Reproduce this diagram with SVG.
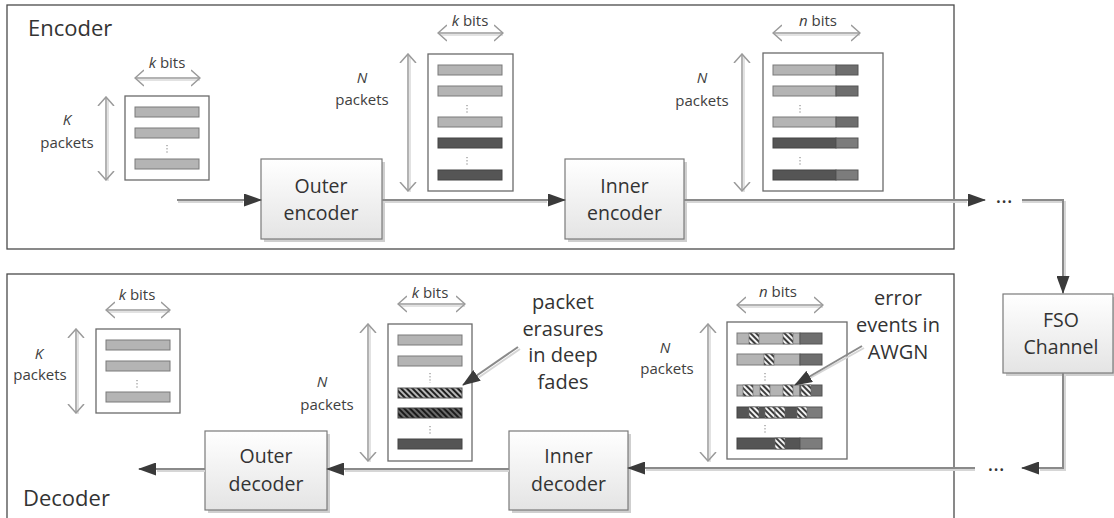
<svg xmlns="http://www.w3.org/2000/svg" width="1114" height="518" viewBox="0 0 1114 518">
<defs>
<linearGradient id="boxg" x1="0" y1="0" x2="0" y2="1">
<stop offset="0" stop-color="#ffffff"/><stop offset="1" stop-color="#e4e4e4"/>
</linearGradient>
<pattern id="hatchL" width="4" height="4" patternUnits="userSpaceOnUse" patternTransform="rotate(-45)">
<rect width="4" height="4" fill="#b8b8b8"/><rect width="2" height="4" fill="#1e1e1e"/>
</pattern>
<pattern id="hatchD" width="4" height="4" patternUnits="userSpaceOnUse" patternTransform="rotate(-45)">
<rect width="4" height="4" fill="#6a6a6a"/><rect width="2" height="4" fill="#1a1a1a"/>
</pattern>
<pattern id="hatchW" width="4" height="4" patternUnits="userSpaceOnUse" patternTransform="rotate(-45)">
<rect width="4" height="4" fill="#3c3c3c"/><rect width="2" height="4" fill="#f4f4f4"/>
</pattern>
<marker id="ah" markerUnits="userSpaceOnUse" viewBox="0 0 18 13" markerWidth="18" markerHeight="13" refX="17" refY="6.5" orient="auto">
<path d="M0,0 L18,6.5 L0,13 z" fill="#3a3a3a"/>
</marker>
<marker id="dh" markerUnits="userSpaceOnUse" viewBox="0 0 10 18" markerWidth="10" markerHeight="18" refX="9" refY="9" orient="auto-start-reverse">
<path d="M0,1 L9,9 L0,17" fill="none" stroke="#9a9a9a" stroke-width="1.5"/>
</marker>
</defs>
<style>
.frame{fill:none;stroke:#4a4a4a;stroke-width:1.3}
.box{fill:url(#boxg);stroke:#7a7a7a;stroke-width:1.2}
.shadow{fill:#cfcfcf}
.pbox{fill:#fff;stroke:#6a6a6a;stroke-width:1.3}
.lb{fill:#b4b4b4;stroke:#7a7a7a;stroke-width:1}
.db{fill:#555;stroke:#444;stroke-width:1}
.lp{fill:#6e6e6e;stroke:#555;stroke-width:1}
.dp{fill:#7c7c7c;stroke:#555;stroke-width:1}
.hs{fill:url(#hatchW);stroke:#666;stroke-width:0.6}
.dots{stroke:#777;stroke-width:1;stroke-dasharray:1.2 2}
.dbl{stroke:#9a9a9a;stroke-width:1.5;fill:none;marker-start:url(#dh);marker-end:url(#dh)}
.dbls{stroke:#e2e2e2;stroke-width:2;fill:none}
.con{fill:none;stroke:#8a8a8a;stroke-width:2;marker-end:url(#ah)}
.cons{fill:none;stroke:#d6d6d6;stroke-width:2}
text{font-family:"Open Sans","Liberation Sans",sans-serif;fill:#333}
.t{font-size:19.5px;text-anchor:middle}
.s{font-size:15px;text-anchor:middle;fill:#404040}
.big{font-size:22px}
.ann{font-size:20px;text-anchor:middle}
.i{font-style:italic}
.ell{font-size:22px;text-anchor:middle}
</style>

<g id="encoder-frame"><rect class="frame" x="7" y="5" width="947" height="244"/><text class="big" x="28" y="36">Encoder</text></g>
<g id="decoder-frame"><rect class="frame" x="7" y="274" width="947" height="270"/><text class="big" x="23" y="506">Decoder</text></g>

<g id="outer-encoder"><rect class="shadow" x="264" y="162" width="121" height="80"/><rect class="box" x="261" y="159" width="121" height="80"/><text class="t" x="321" y="193">Outer</text><text class="t" x="321" y="220">encoder</text></g>
<g id="inner-encoder"><rect class="shadow" x="568" y="162" width="119" height="80"/><rect class="box" x="565" y="159" width="119" height="80"/><text class="t" x="624.5" y="193">Inner</text><text class="t" x="624.5" y="220">encoder</text></g>
<g id="fso-channel"><rect class="shadow" x="1006" y="297" width="110" height="79"/><rect class="box" x="1003" y="294" width="110" height="79"/><text class="t" x="1061" y="327">FSO</text><text class="t" x="1061" y="354">Channel</text></g>
<g id="inner-decoder"><rect class="shadow" x="512" y="434" width="119" height="79"/><rect class="box" x="509" y="431" width="119" height="79"/><text class="t" x="568.5" y="463">Inner</text><text class="t" x="568.5" y="491">decoder</text></g>
<g id="outer-decoder"><rect class="shadow" x="208" y="434" width="122" height="79"/><rect class="box" x="205" y="431" width="122" height="79"/><text class="t" x="266" y="463">Outer</text><text class="t" x="266" y="491">decoder</text></g>

<g id="enc-packets-K">
<path class="dbls" d="M137,80 H200 M108,99 V181"/>
<path class="dbl" d="M135,78 H200"/><path class="dbl" d="M106,97 V180"/>
<text class="s" x="167" y="68"><tspan class="i">k</tspan> bits</text>
<text class="s i" x="67" y="125">K</text><text class="s" x="67" y="148">packets</text>
<rect class="pbox" x="125" y="96" width="84" height="84"/>
<rect class="lb" x="135" y="107" width="64" height="10"/>
<rect class="lb" x="135" y="128" width="64" height="10"/>
<line class="dots" x1="167" y1="145" x2="167" y2="154"/>
<rect class="lb" x="135" y="159" width="64" height="10"/>
</g>

<g id="enc-packets-N">
<path class="dbls" d="M440,35 H503 M410,56 V192"/>
<path class="dbl" d="M438,33 H503"/><path class="dbl" d="M408,54 V191"/>
<text class="s" x="470" y="26"><tspan class="i">k</tspan> bits</text>
<text class="s i" x="362" y="83">N</text><text class="s" x="362" y="105">packets</text>
<rect class="pbox" x="428" y="54" width="85" height="137"/>
<rect class="lb" x="438" y="65" width="64" height="10"/>
<rect class="lb" x="438" y="86" width="64" height="10"/>
<line class="dots" x1="467" y1="105" x2="467" y2="114"/>
<rect class="lb" x="438" y="117" width="64" height="10"/>
<rect class="db" x="438" y="138" width="64" height="10"/>
<line class="dots" x1="467" y1="157" x2="467" y2="166"/>
<rect class="db" x="438" y="170" width="64" height="10"/>
</g>

<g id="enc-packets-n">
<path class="dbls" d="M775,35 H860 M744,56 V192"/>
<path class="dbl" d="M773,33 H860"/><path class="dbl" d="M742,54 V191"/>
<text class="s" x="818" y="26"><tspan class="i">n</tspan> bits</text>
<text class="s i" x="702" y="83">N</text><text class="s" x="702" y="106">packets</text>
<rect class="pbox" x="763" y="53" width="120" height="138"/>
<rect class="lb" x="773" y="65" width="63" height="10"/><rect class="lp" x="836" y="65" width="22" height="10"/>
<rect class="lb" x="773" y="86" width="63" height="10"/><rect class="lp" x="836" y="86" width="22" height="10"/>
<line class="dots" x1="800" y1="105" x2="800" y2="114"/>
<rect class="lb" x="773" y="117" width="63" height="10"/><rect class="lp" x="836" y="117" width="22" height="10"/>
<rect class="db" x="773" y="138" width="63" height="10"/><rect class="dp" x="836" y="138" width="22" height="10"/>
<line class="dots" x1="800" y1="157" x2="800" y2="166"/>
<rect class="db" x="773" y="170" width="63" height="10"/><rect class="dp" x="836" y="170" width="22" height="10"/>
</g>

<g id="dec-packets-K">
<path class="dbls" d="M108,312 H170 M78,331 V414"/>
<path class="dbl" d="M106,310 H170"/><path class="dbl" d="M76,329 V413"/>
<text class="s" x="137" y="300"><tspan class="i">k</tspan> bits</text>
<text class="s i" x="39" y="359">K</text><text class="s" x="40" y="380">packets</text>
<rect class="pbox" x="96" y="329" width="84" height="84"/>
<rect class="lb" x="106" y="340" width="64" height="10"/>
<rect class="lb" x="106" y="361" width="64" height="10"/>
<line class="dots" x1="137" y1="380" x2="137" y2="389"/>
<rect class="lb" x="106" y="392" width="64" height="10"/>
</g>

<g id="dec-packets-N">
<path class="dbls" d="M400,306 H465 M370,326 V462"/>
<path class="dbl" d="M398,304 H465"/><path class="dbl" d="M368,324 V461"/>
<text class="s" x="430" y="298"><tspan class="i">k</tspan> bits</text>
<text class="s i" x="322" y="387">N</text><text class="s" x="327" y="410">packets</text>
<rect class="pbox" x="388" y="324" width="84" height="137"/>
<rect class="lb" x="398" y="335" width="64" height="10"/>
<rect class="lb" x="398" y="356" width="64" height="10"/>
<line class="dots" x1="430" y1="373" x2="430" y2="383"/>
<rect x="398" y="388" width="64" height="10" fill="url(#hatchL)" stroke="#555" stroke-width="1"/>
<rect x="398" y="408" width="64" height="10" fill="url(#hatchD)" stroke="#444" stroke-width="1"/>
<line class="dots" x1="430" y1="426" x2="430" y2="435"/>
<rect class="db" x="398" y="439" width="64" height="10"/>
<text class="ann" x="563" y="309">packet</text>
<text class="ann" x="563" y="336">erasures</text>
<text class="ann" x="563" y="362">in deep</text>
<text class="ann" x="563" y="389">fades</text>
</g>

<g id="dec-packets-n">
<path class="dbls" d="M739,307 H823 M710,326 V462"/>
<path class="dbl" d="M737,305 H823"/><path class="dbl" d="M708,324 V461"/>
<text class="s" x="778" y="297"><tspan class="i">n</tspan> bits</text>
<text class="s i" x="665" y="353">N</text><text class="s" x="667" y="374">packets</text>
<rect class="pbox" x="727" y="322" width="120" height="137"/>
<rect class="lb" x="737" y="333" width="63" height="11"/><rect class="lp" x="800" y="333" width="22" height="11"/>
<rect class="hs" x="749" y="333" width="10" height="11"/><rect class="hs" x="783" y="333" width="10" height="11"/>
<rect class="lb" x="737" y="354" width="63" height="11"/><rect class="lp" x="800" y="354" width="22" height="11"/>
<rect class="hs" x="764" y="354" width="10" height="11"/>
<line class="dots" x1="765" y1="373" x2="765" y2="382"/>
<rect class="lb" x="737" y="385" width="63" height="11"/><rect class="lp" x="800" y="385" width="22" height="11"/>
<rect class="hs" x="743" y="385" width="10" height="11"/><rect class="hs" x="760" y="385" width="10" height="11"/><rect class="hs" x="783" y="385" width="10" height="11"/><rect class="hs" x="801" y="385" width="10" height="11"/>
<rect class="db" x="737" y="407" width="63" height="11"/><rect class="dp" x="800" y="407" width="22" height="11"/>
<rect class="hs" x="749" y="407" width="10" height="11"/><rect class="hs" x="765" y="407" width="10" height="11"/><rect class="hs" x="775" y="407" width="10" height="11"/><rect class="hs" x="797" y="407" width="10" height="11"/>
<line class="dots" x1="765" y1="425" x2="765" y2="434"/>
<rect class="db" x="737" y="438" width="63" height="11"/><rect class="dp" x="800" y="438" width="22" height="11"/>
<rect class="hs" x="775" y="438" width="10" height="11"/>
<text class="ann" x="898" y="305">error</text>
<text class="ann" x="898" y="332">events in</text>
<text class="ann" x="898" y="359">AWGN</text>
</g>

<g id="connectors">
<path class="cons" d="M178,202 H243"/>
<path class="con" d="M177,200 H261"/>
<path class="cons" d="M384,202 H547"/>
<path class="con" d="M382,200 H565"/>
<path class="cons" d="M686,202 H967"/>
<path class="con" d="M684,200 H985"/>
<path class="cons" d="M1022,202 H1065 V276"/>
<path class="con" d="M1022,200 H1063 V293"/>
<path class="cons" d="M1065,374 V470 H1040"/>
<path class="con" d="M1063,373 V468 H1022"/>
<path class="cons" d="M975,470 H646"/>
<path class="con" d="M975,468 H628"/>
<path class="cons" d="M509,471 H345"/>
<path class="con" d="M509,469 H327"/>
<path class="cons" d="M205,471 H157"/>
<path class="con" d="M205,469 H139"/>
<path class="cons" d="M520,349 L478,378"/>
<path class="con" d="M518,347 L463,385"/>
<path class="cons" d="M864,348 L810,378"/>
<path class="con" d="M862,346 L795,385"/>
<text class="ell" x="1004" y="203">…</text>
<text class="ell" x="996" y="471">…</text>
</g>
</svg>
